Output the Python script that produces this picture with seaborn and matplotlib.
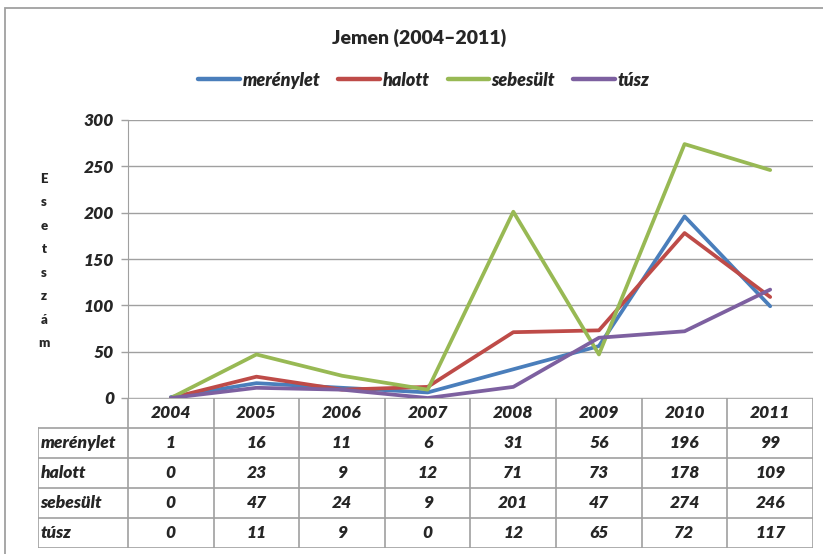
import numpy as np
import pandas as pd
import matplotlib
matplotlib.use("Agg")
import matplotlib.pyplot as plt
from matplotlib.patches import Rectangle
from matplotlib.lines import Line2D
import seaborn as sns

# adatok
years = ["2004", "2005", "2006", "2007", "2008", "2009", "2010", "2011"]
series_names = ["merénylet", "halott", "sebesült", "túsz"]
merenylet = [1, 16, 11, 6, 31, 56, 196, 99]
halott = [0, 23, 9, 12, 71, 73, 178, 109]
sebesult = [0, 47, 24, 9, 201, 47, 274, 246]
tusz = [0, 11, 9, 0, 12, 65, 72, 117]
colors = ["#4a7ebb", "#be4b48", "#98b954", "#7d60a0"]
yticks = [0, 50, 100, 150, 200, 250, 300]

sns.set_style("white")
plt.rcParams['font.family'] = ['Lato', 'DejaVu Sans']
BW = "heavy"

W, H = 823, 554
fig = plt.figure(figsize=(W / 100, H / 100), dpi=100)

def fx(px):
    return px / W

def fy(py):
    return 1 - py / H

grid_col = "#a0a0a0"

# külső keret
fig.patches.append(Rectangle((fx(5), fy(600)), 1.2, fy(8) - fy(600), transform=fig.transFigure,
                             fill=False, edgecolor=grid_col, linewidth=1.3))

# fő diagram
ax = fig.add_axes([fx(128), fy(398), fx(813) - fx(128), fy(120) - fy(398)])
all_vals = [merenylet, halott, sebesult, tusz]
rows = []
for name, vals in zip(series_names, all_vals):
    for i, v in enumerate(vals):
        rows.append({"x": i, "y": v, "sorozat": name})
df = pd.DataFrame(rows)

sns.lineplot(data=df, x="x", y="y", hue="sorozat", palette=colors, hue_order=series_names,
             linewidth=2.7, sort=False, legend=False, ax=ax)

ax.set_xlim(-0.5, len(years) - 0.5)
ax.set_ylim(0, 300)
ax.set_yticks(yticks)
ax.set_yticklabels([str(t) for t in yticks], fontsize=12.5, fontweight=BW, fontstyle="italic")
ax.set_xticks([])
ax.set_xlabel("")
ax.set_ylabel("")
ax.grid(True, axis="y", color=grid_col, linewidth=1)
ax.set_axisbelow(True)
for s in ["top", "right", "bottom"]:
    ax.spines[s].set_visible(False)
ax.spines["left"].set_color(grid_col)
ax.tick_params(axis="y", direction="out", length=5, color=grid_col, width=1, pad=5, left=True)

# függőleges tengelycím, betűnként
fig.text(fx(44), fy(261), "\n".join("Esetszám"), ha="center", va="center",
         fontsize=9.5, fontweight=BW, linespacing=2.15)

# cím
fig.text(fx(419), fy(38), "Jemen (2004–2011)", ha="center", va="center",
         fontsize=14, fontweight=BW)

# jelmagyarázat
handles = [Line2D([], [], color=c, linewidth=3.2) for c in colors]
fig.legend(handles, series_names, loc="center", bbox_to_anchor=(fx(424), fy(80)), ncol=4,
           frameon=False, handlelength=2.3, handletextpad=0.15, columnspacing=1.0,
           prop={"size": 13, "weight": BW, "style": "italic"})

# adattábla
tab = fig.add_axes([fx(38), fy(548), fx(813) - fx(38), fy(398) - fy(548)])
label_w = 90 / 85.625
tab.set_xlim(-0.5 - label_w, len(years) - 0.5)
tab.set_ylim(5, 0)
tab.axis("off")
lc = dict(color=grid_col, linewidth=1.2)
x0 = -0.5 - label_w
xe = len(years) - 0.5
# vízszintes vonalak
tab.plot([-0.5, xe], [0, 0], **lc)
for r in range(1, 6):
    tab.plot([x0, xe], [r, r], **lc)
# függőleges vonalak
tab.plot([x0, x0], [1, 5], **lc)
for c in range(len(years) + 1):
    tab.plot([c - 0.5, c - 0.5], [0, 5], **lc)

txt = dict(fontsize=12.5, fontweight=BW, fontstyle="italic", va="center")
for i, yr in enumerate(years):
    tab.text(i, 0.5, yr, ha="center", **txt)
for r, (name, vals) in enumerate(zip(series_names, all_vals), start=1):
    tab.text(x0 + 0.03, r + 0.5, name, ha="left", **txt)
    for i, v in enumerate(vals):
        tab.text(i, r + 0.5, str(v), ha="center", **txt)

fig.savefig("out.png", dpi=100)
